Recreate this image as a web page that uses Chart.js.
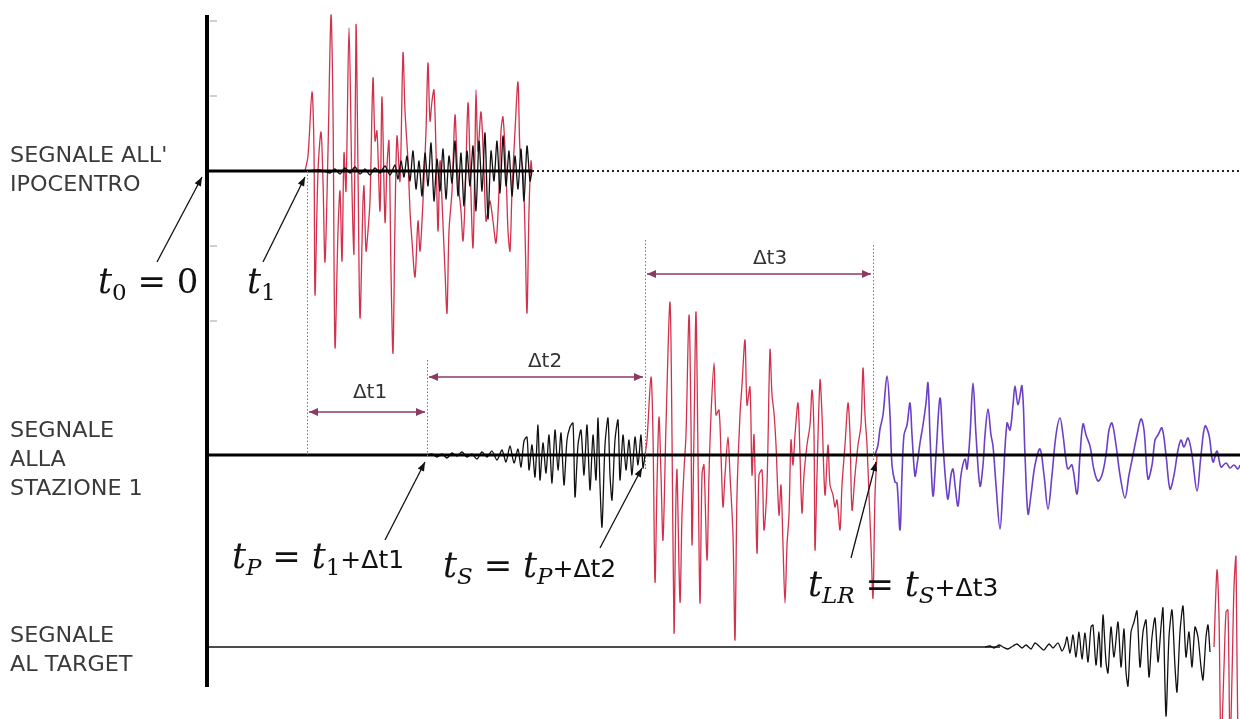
<!DOCTYPE html>
<html>
<head>
<meta charset="utf-8">
<script src="https://cdn.jsdelivr.net/npm/chart.js@4.4.1/dist/chart.umd.min.js"></script>
<style>
  body { margin: 0; background: #fff; }
  canvas { display: block; }
</style>
</head>
<body>
<canvas id="sismo" width="1240" height="719"></canvas>
<script>
// livelli delle tre tracce (asse verticale 0..719, verso l'alto)
const levels = { ipo: 548, staz: 264, target: 72 };

// segnale all'ipocentro - componente rossa
const ipoRedT = [305,308,312,314,315,318,321,323,325,328,331,333,335,338,340,342,344,346,349,352,354,356,358,360,363,364,366,368,370,373,375,377,380,382,385,387,389,391,393,395,397,400,403,405,408,410,412,415,418,420,423,426,428,430,432,434,436,438,440,442,445,447,449,452,455,457,459,461,463,465,468,470,473,475,476,478,481,484,486,488,490,493,496,499,501,503,506,508,510,512,515,518,520,523,525,527,529,531,532];
const ipoRedA = [0,15,79,20,-124,0,39,-10,-91,20,156,60,-176,-60,-20,-90,18,-20,143,-20,-82,146,0,-147,-30,-15,-80,-60,-30,93,30,40,-40,74,-51,5,30,-100,-182,-50,35,-10,118,60,10,-40,-70,-106,-50,-80,-30,40,108,50,70,81,20,-60,10,-30,-100,-142,-60,-20,56,10,-20,-40,-70,-30,68,10,-77,20,81,20,59,0,-50,-40,-30,-50,-72,-20,40,54,0,-60,-80,-20,40,89,20,0,-60,-142,-40,10,0];

// segnale all'ipocentro - componente nera
const ipoBlackT = [305,320,330,335,340,345,350,355,360,365,370,375,380,385,390,395,398,401,404,407,410,413,416,419,422,425,428,431,434,437,440,443,446,449,452,455,458,461,464,467,470,473,476,479,482,485,488,491,494,497,500,503,506,509,512,515,518,521,524,527,530,532];
const ipoBlackA = [0,1,-2,2,-3,3,-2,4,-3,2,-4,3,-2,5,-4,6,-8,10,-6,15,-10,20,-18,10,-25,18,-15,28,-30,12,-20,22,-28,15,-12,30,-25,18,-35,20,-15,25,-40,30,-20,38,-48,20,-10,30,-22,35,-15,20,-25,15,-18,22,-30,25,-10,0];

// stazione 1 - onde P
const stazPT = [427,432,437,442,447,452,457,462,467,472,477,482,487,492,497,502,506,510,514,518,521,524,527,529,532,535,538,540,543,546,549,552,555,558,561,564,567,570,573,575,578,581,584,587,590,593,596,598,600,602,605,608,610,612,615,618,620,623,626,629,632,635,638,641,643,645];
const stazPA = [0,1,-2,1,-3,2,-1,3,-2,1,-4,3,-2,4,-5,5,-7,9,-8,6,-12,14,18,-15,10,-22,30,-25,12,-18,20,-28,25,-15,22,-30,15,28,32,-42,10,25,-20,30,-35,20,-25,37,-30,-72,10,37,-20,-45,15,35,-25,20,-15,15,-20,18,-10,20,-13,0];

// stazione 1 - onde S
const stazST = [645,647,651,653,655,657,659,661,663,666,670,672,674,676,677,680,682,684,686,689,691,692,694,696,698,700,702,704,707,709,711,714,716,719,721,723,725,728,730,733,735,737,740,742,745,747,750,752,754,757,759,762,764,767,770,772,774,776,779,781,783,785,787,789,791,793,795,798,800,802,804,807,810,812,814,815,817,820,822,825,828,830,833,835,837,840,842,845,848,850,852,855,858,861,863,865,867,869,871,873,875,877];
const stazSA = [0,15,78,20,-127,-30,38,-20,-85,30,153,20,-178,-40,-15,-147,-60,-15,20,140,30,-90,20,143,0,-148,-20,-10,-105,-20,40,92,40,45,0,-52,-20,18,-20,-80,-185,-40,40,70,115,50,68,-20,20,-98,-20,-15,-75,-30,105,60,42,10,-60,-30,-90,-148,-90,-60,15,-10,20,52,0,-58,-20,10,30,65,20,-95,-20,75,40,-40,10,-30,-40,-52,-45,-75,-30,10,52,20,-55,-20,10,30,87,40,10,-40,-90,-143,-40,0];

// stazione 1 - onde superficiali (LR)
const stazLRT = [875,878,880,883,887,890,892,895,897,900,902,904,907,910,912,915,917,920,923,926,928,930,933,936,940,943,946,948,951,953,955,958,961,965,967,970,973,976,980,983,985,988,991,993,996,1000,1003,1007,1010,1013,1015,1018,1022,1025,1028,1031,1035,1040,1044,1048,1052,1056,1060,1063,1066,1068,1072,1077,1080,1083,1086,1090,1094,1098,1102,1106,1109,1112,1116,1120,1125,1129,1133,1137,1141,1144,1148,1152,1155,1158,1162,1166,1170,1174,1178,1181,1184,1188,1192,1197,1201,1205,1209,1213,1217,1221,1226,1230,1234,1238,1240];
const stazLRA = [0,10,26,40,79,40,-10,-27,-28,-75,-20,20,30,52,20,-21,-10,12,30,52,72,20,-41,0,57,10,-30,-44,-20,-14,-30,-51,-20,-4,-14,20,72,20,-31,-10,20,46,20,9,-30,-74,-30,32,25,50,69,50,69,0,-59,-40,-10,6,-20,-54,-20,20,37,20,-5,-14,-10,-39,0,31,20,9,-15,-26,-20,0,25,32,10,-20,-43,-20,0,20,36,25,-24,-10,15,20,27,0,-34,-20,5,15,8,17,0,-36,0,29,20,-7,4,-12,-8,-13,-10,-14,-10];

// segnale al target
const targetBlackT = [985,990,994,999,1003,1008,1013,1017,1022,1026,1031,1035,1040,1044,1049,1053,1058,1062,1065,1067,1070,1073,1076,1079,1082,1085,1088,1091,1093,1096,1099,1101,1103,1106,1108,1111,1114,1118,1121,1124,1126,1128,1131,1134,1137,1140,1143,1146,1149,1152,1155,1158,1161,1163,1166,1169,1172,1175,1177,1180,1183,1186,1189,1192,1195,1198,1201,1203,1206,1208,1210];
const targetBlackA = [0,1,-1,2,0,-2,1,3,-1,2,-2,4,0,-3,3,-1,4,-4,2,10,-6,12,-10,15,-12,14,-15,20,22,-18,15,-20,32,-15,-26,20,-10,25,-20,18,-25,-39,15,25,36,-20,15,27,-30,10,29,-15,20,39,-69,10,37,-20,-45,15,41,-10,15,-20,20,10,-20,-33,10,22,-5];
const targetRedT = [1214,1217,1219,1221,1224,1226,1228,1230,1232,1234,1236,1238,1240];
const targetRedA = [0,77,30,-100,-20,35,37,-100,-30,60,90,-100,-100];

// tacche dell'asse (ampiezza rispetto all'ipocentro)
const tickAmps = [150, 75, -75, -150];

// linee di base: [inizio, fine]
const baseIpoSolid = [207, 532];
const baseIpoDotted = [532, 1240];
const baseStaz = [207, 1240];
const baseTarget = [207, 1000];

function trace(times, amps, level) {
  return times.map((t, i) => ({ x: t, y: level + amps[i] }));
}
function flat(span, level) {
  return span.map(t => ({ x: t, y: level }));
}

const RED = 'rgba(206, 32, 62, 0.92)';
const PURPLE = '#6b3fc6';
const INK = '#111111';
const BRACKET = '#8b3a66';

function lineSet(data, color, width, extra) {
  return Object.assign({
    data: data,
    borderColor: color,
    borderWidth: width,
    pointRadius: 0,
    fill: false,
    tension: 0,
    borderJoinStyle: 'round'
  }, extra || {});
}

// annotazioni (in unità del grafico)
const guides = [
  { x: 307, y1: 548, y2: 264 },
  { x: 427, y1: 359, y2: 262 },
  { x: 645, y1: 479, y2: 249 },
  { x: 873, y1: 474, y2: 257 }
];
const intervals = [
  { from: 307, to: 427, y: 307, label: 'Δt1', lx: 370, ly: 326 },
  { from: 427, to: 645, y: 342, label: 'Δt2', lx: 545, ly: 357 },
  { from: 645, to: 873, y: 445, label: 'Δt3', lx: 770, ly: 460 }
];
const pointers = [
  { x1: 157, y1: 457, x2: 202, y2: 542 },
  { x1: 263, y1: 457, x2: 305, y2: 542 },
  { x1: 385, y1: 179, x2: 425, y2: 257 },
  { x1: 600, y1: 171, x2: 642, y2: 251 },
  { x1: 851, y1: 161, x2: 876, y2: 257 }
];
const sideLabels = [
  { lines: ["SEGNALE ALL'", 'IPOCENTRO'], x: 10, y: 562 },
  { lines: ['SEGNALE', 'ALLA', 'STAZIONE 1'], x: 10, y: 287 },
  { lines: ['SEGNALE', 'AL TARGET'], x: 10, y: 82 }
];
// formule: i = corsivo, s = pedice corsivo, n = pedice numerico, r = tondo, g = testo
const formulas = [
  { x: 98, y: 426, parts: [['i', 't'], ['n', '0'], ['r', ' = 0']] },
  { x: 247, y: 426, parts: [['i', 't'], ['n', '1']] },
  { x: 232, y: 151, parts: [['i', 't'], ['s', 'P'], ['r', ' = '], ['i', 't'], ['n', '1'], ['g', '+Δt1']] },
  { x: 443, y: 142, parts: [['i', 't'], ['s', 'S'], ['r', ' = '], ['i', 't'], ['s', 'P'], ['g', '+Δt2']] },
  { x: 808, y: 123, parts: [['i', 't'], ['s', 'LR'], ['r', ' = '], ['i', 't'], ['s', 'S'], ['g', '+Δt3']] }
];

function arrowHead(ctx, x1, y1, x2, y2, len, half) {
  const a = Math.atan2(y2 - y1, x2 - x1);
  ctx.beginPath();
  ctx.moveTo(x2, y2);
  ctx.lineTo(x2 - len * Math.cos(a) + half * Math.sin(a), y2 - len * Math.sin(a) - half * Math.cos(a));
  ctx.lineTo(x2 - len * Math.cos(a) - half * Math.sin(a), y2 - len * Math.sin(a) + half * Math.cos(a));
  ctx.closePath();
  ctx.fill();
}

const decorPlugin = {
  id: 'decor',
  afterDatasetsDraw(chart) {
    const ctx = chart.ctx;
    const xs = chart.scales.x, ys = chart.scales.y;
    const px = v => xs.getPixelForValue(v);
    const py = v => ys.getPixelForValue(v);
    ctx.save();

    // asse verticale e tacche
    ctx.strokeStyle = '#000';
    ctx.lineWidth = 4;
    ctx.beginPath();
    ctx.moveTo(px(207), py(704));
    ctx.lineTo(px(207), py(32));
    ctx.stroke();
    ctx.strokeStyle = '#a0a0a0';
    ctx.lineWidth = 1;
    tickAmps.forEach(a => {
      ctx.beginPath();
      ctx.moveTo(px(210), py(levels.ipo + a));
      ctx.lineTo(px(217), py(levels.ipo + a));
      ctx.stroke();
    });

    // linee guida tratteggiate
    ctx.strokeStyle = '#777';
    ctx.lineWidth = 1;
    ctx.setLineDash([1.5, 2]);
    guides.forEach(g => {
      ctx.beginPath();
      ctx.moveTo(px(g.x) + 0.5, py(g.y1));
      ctx.lineTo(px(g.x) + 0.5, py(g.y2));
      ctx.stroke();
    });
    ctx.setLineDash([]);

    // intervalli con doppia freccia
    ctx.strokeStyle = BRACKET;
    ctx.fillStyle = BRACKET;
    ctx.lineWidth = 1.5;
    intervals.forEach(iv => {
      const x1 = px(iv.from) + 2, x2 = px(iv.to) - 2, y = py(iv.y);
      ctx.beginPath();
      ctx.moveTo(x1, y);
      ctx.lineTo(x2, y);
      ctx.stroke();
      arrowHead(ctx, x2, y, x1, y, 9, 4);
      arrowHead(ctx, x1, y, x2, y, 9, 4);
    });
    ctx.fillStyle = '#333';
    ctx.font = '20px "DejaVu Sans"';
    ctx.textAlign = 'center';
    ctx.textBaseline = 'middle';
    intervals.forEach(iv => ctx.fillText(iv.label, px(iv.lx), py(iv.ly)));

    // frecce indicatrici
    ctx.strokeStyle = '#111';
    ctx.fillStyle = '#111';
    ctx.lineWidth = 1.3;
    pointers.forEach(p => {
      const x1 = px(p.x1), y1 = py(p.y1), x2 = px(p.x2), y2 = py(p.y2);
      ctx.beginPath();
      ctx.moveTo(x1, y1);
      ctx.lineTo(x2, y2);
      ctx.stroke();
      arrowHead(ctx, x1, y1, x2, y2, 9, 3.5);
    });

    // etichette laterali
    ctx.textAlign = 'left';
    ctx.textBaseline = 'middle';
    ctx.fillStyle = '#3a3a3a';
    ctx.font = '21px "DejaVu Sans"';
    const sx = 104 / ctx.measureText('SEGNALE').width;
    sideLabels.forEach(s => {
      s.lines.forEach((line, i) => {
        ctx.save();
        ctx.translate(px(s.x), py(s.y) + i * 29);
        ctx.scale(sx, 1);
        ctx.fillText(line, 0, 0);
        ctx.restore();
      });
    });

    // formule
    ctx.textBaseline = 'alphabetic';
    ctx.fillStyle = '#111';
    const fonts = {
      i: ['italic 35px "DejaVu Serif"', 0],
      r: ['34px "DejaVu Serif"', 0],
      s: ['italic 23px "DejaVu Serif"', 7],
      n: ['23px "DejaVu Serif"', 7],
      g: ['25px "DejaVu Sans"', 0]
    };
    formulas.forEach(f => {
      let x = px(f.x);
      const y = py(f.y);
      f.parts.forEach(([kind, txt]) => {
        ctx.font = fonts[kind][0];
        ctx.fillText(txt, x, y + fonts[kind][1]);
        x += ctx.measureText(txt).width;
      });
    });

    ctx.restore();
  }
};

new Chart(document.getElementById('sismo'), {
  type: 'line',
  data: {
    datasets: [
      lineSet(flat(baseStaz, levels.staz), '#000', 3),
      lineSet(flat(baseIpoSolid, levels.ipo), '#000', 3),
      lineSet(flat(baseIpoDotted, levels.ipo), '#222', 2, { borderDash: [2, 3] }),
      lineSet(flat(baseTarget, levels.target), '#111', 1.5),
      lineSet(trace(ipoBlackT, ipoBlackA, levels.ipo), INK, 1.3, { tension: 0.25 }),
      lineSet(trace(ipoRedT, ipoRedA, levels.ipo), RED, 1.3, { tension: 0.3 }),
      lineSet(trace(stazPT, stazPA, levels.staz), INK, 1.3, { tension: 0.25 }),
      lineSet(trace(stazST, stazSA, levels.staz), RED, 1.3, { tension: 0.3 }),
      lineSet(trace(stazLRT, stazLRA, levels.staz), PURPLE, 1.6, { tension: 0.35 }),
      lineSet(trace(targetBlackT, targetBlackA, levels.target), INK, 1.3, { tension: 0.25 }),
      lineSet(trace(targetRedT, targetRedA, levels.target), RED, 1.3, { tension: 0.3 })
    ]
  },
  options: {
    responsive: false,
    animation: false,
    layout: { padding: 0 },
    plugins: { legend: { display: false }, tooltip: { enabled: false } },
    scales: {
      x: { type: 'linear', min: 0, max: 1240, display: false },
      y: { type: 'linear', min: 0, max: 719, display: false }
    }
  },
  plugins: [decorPlugin]
});
</script>
</body>
</html>
